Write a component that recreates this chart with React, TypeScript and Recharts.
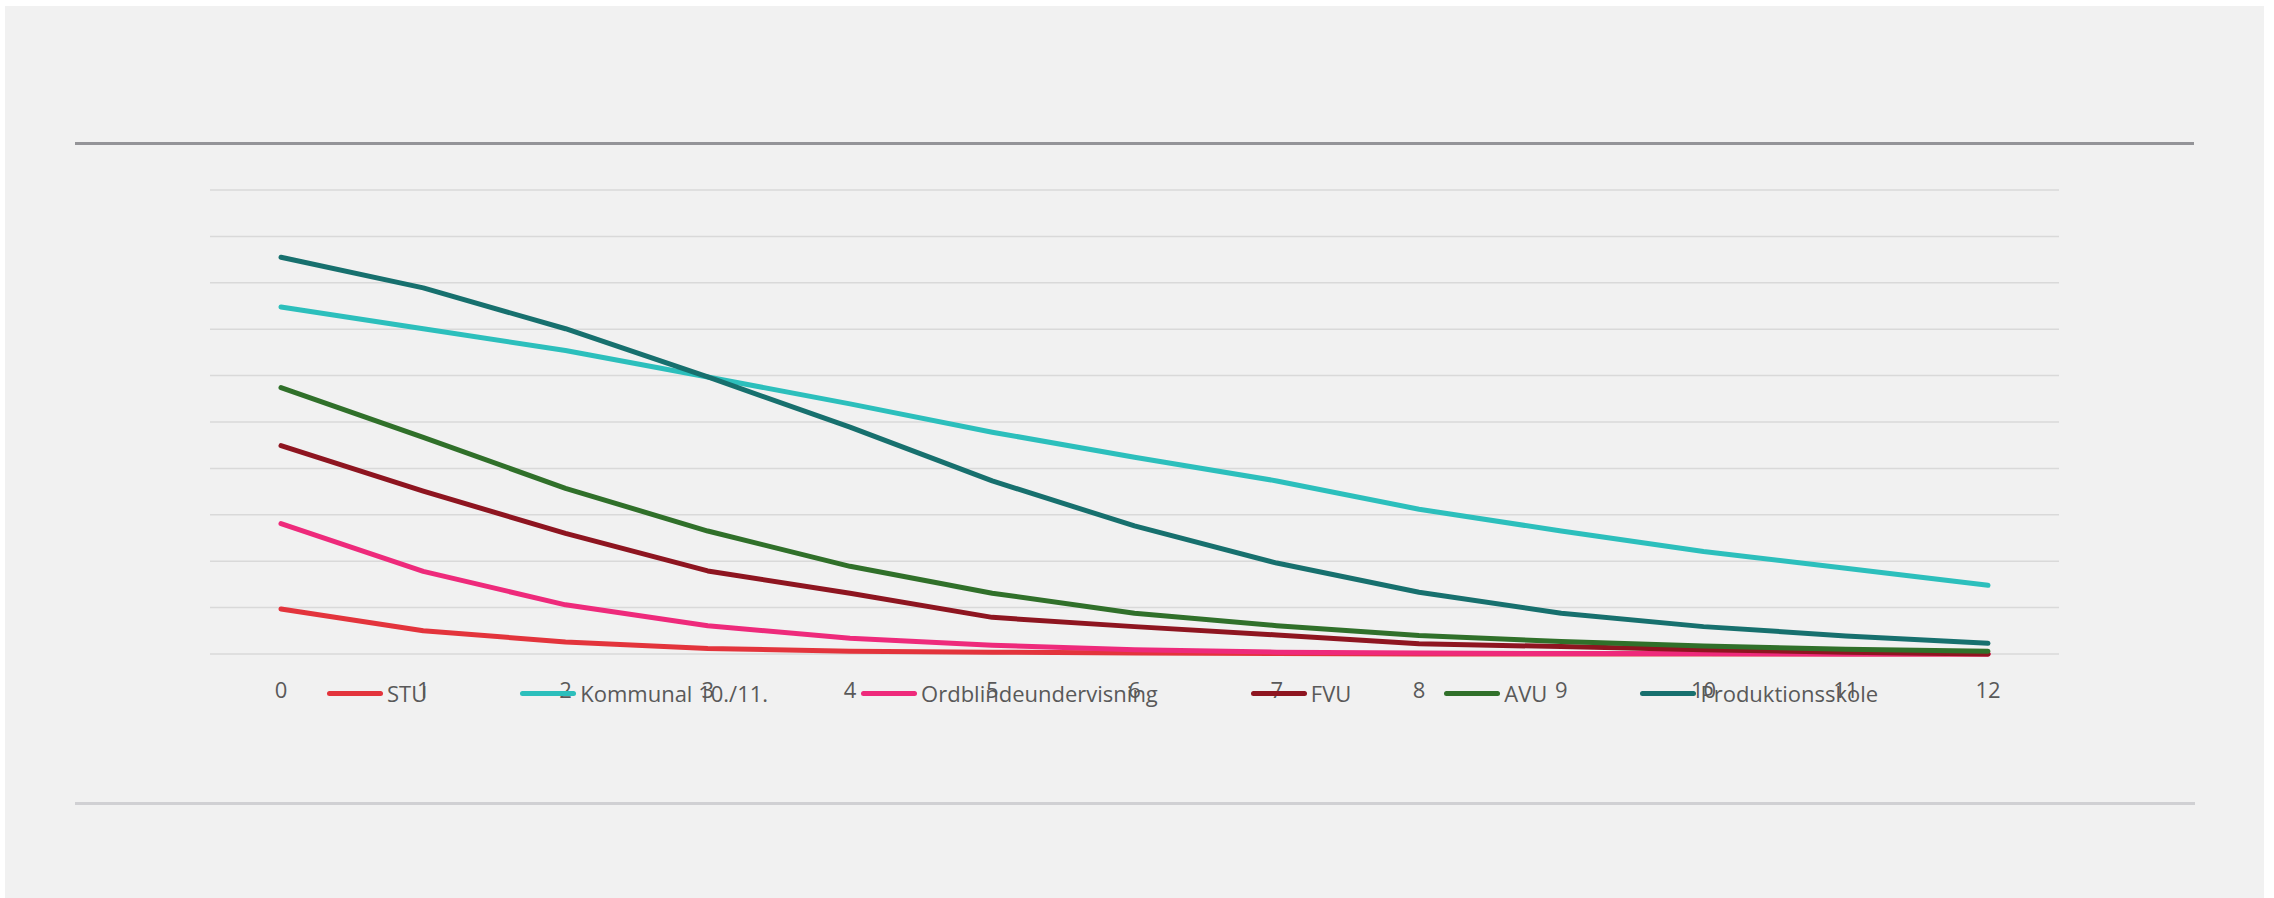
import { LineChart, Line, XAxis, YAxis, CartesianGrid } from "recharts"

const months = ["0", "1", "2", "3", "4", "5", "6", "7", "8", "9", "10", "11", "12"]

const stu = [9.7, 5.0, 2.6, 1.2, 0.6, 0.4, 0.2, 0.1, 0, 0, 0, 0, 0]
const kommunal = [74.8, 70.1, 65.4, 59.7, 53.9, 47.8, 42.4, 37.3, 31.2, 26.5, 22.1, 18.5, 14.8]
const ordblinde = [28.1, 17.8, 10.6, 6.1, 3.4, 1.9, 0.9, 0.4, 0.2, 0.1, 0.1, 0, 0]
const fvu = [44.9, 35.1, 26.0, 17.9, 13.1, 7.9, 5.9, 4.1, 2.2, 1.6, 0.9, 0.4, 0]
const avu = [57.4, 46.7, 35.7, 26.5, 18.9, 13.1, 8.8, 6.1, 4.0, 2.7, 1.7, 1.0, 0.6]
const produktion = [85.5, 78.9, 70.1, 59.7, 48.9, 37.3, 27.6, 19.6, 13.3, 8.8, 5.9, 3.9, 2.3]

const yTicks = [0, 10, 20, 30, 40, 50, 60, 70, 80, 90, 100]

const series = [
  { key: "STU", values: stu, color: "#e3343c" },
  { key: "Kommunal 10./11.", values: kommunal, color: "#2cbfbc" },
  { key: "Ordblindeundervisning", values: ordblinde, color: "#ee2a7b" },
  { key: "FVU", values: fvu, color: "#8e1520" },
  { key: "AVU", values: avu, color: "#30702a" },
  { key: "Produktionsskole", values: produktion, color: "#17706e" },
]

const data = months.map((month, i) => {
  const row: Record<string, string | number> = { month }
  series.forEach((s) => {
    row[s.key] = s.values[i]
  })
  return row
})

const textColor = "#595959"

export default function App() {
  return (
    <div
      style={{
        position: "absolute",
        left: 0,
        top: 0,
        width: 2274,
        height: 898,
        background: "#ffffff",
        fontFamily: "'Open Sans', sans-serif",
        overflow: "hidden",
      }}
    >
      <div style={{ position: "absolute", left: 5, top: 6, width: 2259, height: 892, background: "#f1f1f1" }} />
      <div style={{ position: "absolute", left: 75, top: 142, width: 2119, height: 3, background: "#949498" }} />
      <div style={{ position: "absolute", left: 75, top: 802, width: 2120, height: 3, background: "#d0d0d3" }} />

      <div style={{ position: "absolute", left: 0, top: 0 }}>
        <LineChart width={2274} height={898} data={data} margin={{ top: 190, right: 215, bottom: 204, left: 210 }}>
          <CartesianGrid vertical={false} stroke="#d9d9d9" strokeWidth={1.5} />
          <XAxis
            dataKey="month"
            height={40}
            axisLine={false}
            tickLine={false}
            padding={{ left: 71, right: 71 }}
            interval={0}
            tickMargin={22}
            tick={{ fill: textColor, fontSize: 22 }}
          />
          <YAxis hide domain={[0, 100]} ticks={yTicks} />
          {series.map((s) => (
            <Line
              key={s.key}
              type="linear"
              dataKey={s.key}
              stroke={s.color}
              strokeWidth={5}
              strokeLinecap="round"
              strokeLinejoin="round"
              dot={false}
              activeDot={false}
              isAnimationActive={false}
            />
          ))}
        </LineChart>
      </div>

      <div
        style={{
          position: "absolute",
          left: 327,
          top: 678,
          height: 30,
          display: "flex",
          alignItems: "center",
          gap: 93,
          fontSize: 22,
          color: textColor,
          whiteSpace: "nowrap",
        }}
      >
        {series.map((s) => (
          <div key={s.key} style={{ display: "flex", alignItems: "center" }}>
            <span
              style={{
                display: "inline-block",
                width: 56,
                height: 5,
                borderRadius: 3,
                background: s.color,
                marginRight: 4,
              }}
            />
            <span>{s.key}</span>
          </div>
        ))}
      </div>
    </div>
  )
}
